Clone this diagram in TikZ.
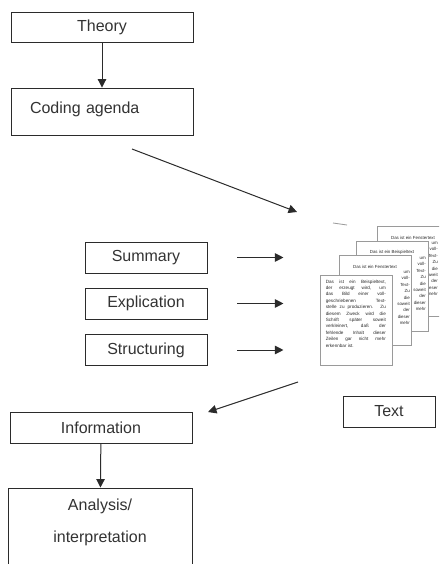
\documentclass[tikz,border=0pt]{standalone}
\usepackage{fontspec}
\setmainfont{Liberation Sans}
\usetikzlibrary{arrows.meta}
\definecolor{ink}{HTML}{2B2B2B}
\definecolor{txt}{HTML}{333333}
\definecolor{pageedge}{HTML}{9A9A9A}
\tikzset{
  x=1pt, y=-1pt,
  box/.style={draw=ink, line width=0.9pt, fill=white, inner sep=0pt,
    font=\fontsize{16}{19}\selectfont, text=txt},
  flow/.style={draw=ink, line width=1pt,
    -{Triangle[length=8.5pt,width=8.5pt]}},
  sheet/.style={draw=pageedge, line width=0.7pt, fill=white,
    minimum width=72pt, minimum height=90pt, inner sep=0pt},
  sheettext/.style={anchor=north west, inner sep=0pt, text width=60pt,
    align=justify, text=ink, font=\fontsize{4.6}{6.4}\selectfont},
  sheethead/.style={anchor=north, inner sep=0pt, text=ink,
    font=\fontsize{4.4}{6.4}\selectfont},
  sheetends/.style={anchor=north east, inner sep=0pt, align=right, text=ink,
    font=\fontsize{4.4}{6.4}\selectfont},
}
% line endings of the sample paragraph, as seen on the pages behind
\newcommand{\sampleends}{um\\voll-\\Text-\\Zu\\die\\soweit\\der\\dieser\\mehr}
\begin{document}
\begin{tikzpicture}
\useasboundingbox (0,0) rectangle (439,564);
\clip (0,0) rectangle (439,564);

% left column
\node[box, minimum width=182pt, minimum height=30pt] (theory) at (102,27) {Theory};
\node[box, minimum width=182pt, minimum height=47pt, text width=144pt,
      inner xsep=19pt, align=left] (coding) at (102,111.5) {Coding agenda\\[-11pt]\mbox{}};
\draw[flow] (theory) -- (coding);

% methods
\node[box, minimum width=122pt, minimum height=31pt] (summary) at (146,257.5) {Summary};
\node[box, minimum width=122pt, minimum height=31pt] (explication) at (146,303.5) {Explication};
\node[box, minimum width=122pt, minimum height=31pt] (structuring) at (146,350) {Structuring};
\draw[flow] ([xshift=30pt]summary.east) -- ([xshift=76pt]summary.east);
\draw[flow] ([xshift=30pt]explication.east) -- ([xshift=76pt]explication.east);
\draw[flow] ([xshift=30pt]structuring.east) -- ([xshift=76pt]structuring.east);

% stack of text pages, back to front
\draw[pageedge, line width=0.8pt] (333,223) -- (347,225);
\node[sheet] (page4) at (413,271) {};
\node[sheethead] (head4) at ([yshift=-10pt]page4.north) {Das ist ein Fenstertext};
\node[sheetends] (ends4) at (438,242) {\sampleends};
\node[sheet] (page3) at (392,286) {};
\node[sheethead] (head3) at ([yshift=-9pt]page3.north) {Das ist ein Beispieltext};
\node[sheetends] (ends3) at (426,257) {\sampleends};
\node[sheet] (page2) at (375,300) {};
\node[sheethead] (head2) at ([yshift=-10pt]page2.north) {Das ist ein Fenstertext};
\node[sheetends] (ends2) at (410,271) {\sampleends};
\node[sheet] (page1) at (356,320) {};
\node[sheettext] (body1) at ([shift={(6pt,-5pt)}]page1.north west)
  {Das ist ein Beispieltext,\linebreak
   der erzeugt wird, um\linebreak
   das Bild einer voll-\linebreak
   geschriebenen Text-\linebreak
   stelle zu produzieren. Zu\linebreak
   diesem Zweck wird die\linebreak
   Schrift später soweit\linebreak
   verkleinert, daß der\linebreak
   fehlende Inhalt dieser\linebreak
   Zeilen gar nicht mehr\linebreak
   erkennbar ist.};

\node[box, minimum width=92pt, minimum height=31pt] (text) at (389,411.5) {Text};

% flow into and out of the material
\coordinate (inS) at (132,149);
\coordinate (inE) at (297,212);
\draw[flow] (inS) -- (inE);
\coordinate (outS) at (298,382);
\coordinate (outE) at (208,412);
\draw[flow] (outS) -- (outE);

% result column
\node[box, minimum width=182pt, minimum height=31pt] (info) at (101,427.5) {Information};
\node[box, minimum width=184pt, minimum height=90pt] (analysis) at (100,533) {};
\node[anchor=north, inner sep=0pt, align=center, text=txt,
      font=\fontsize{16}{32}\selectfont] (analysistext) at ([yshift=-11pt]analysis.north)
      {Analysis/\\interpretation};
\draw[flow] (info) -- (analysis);
\end{tikzpicture}
\end{document}
